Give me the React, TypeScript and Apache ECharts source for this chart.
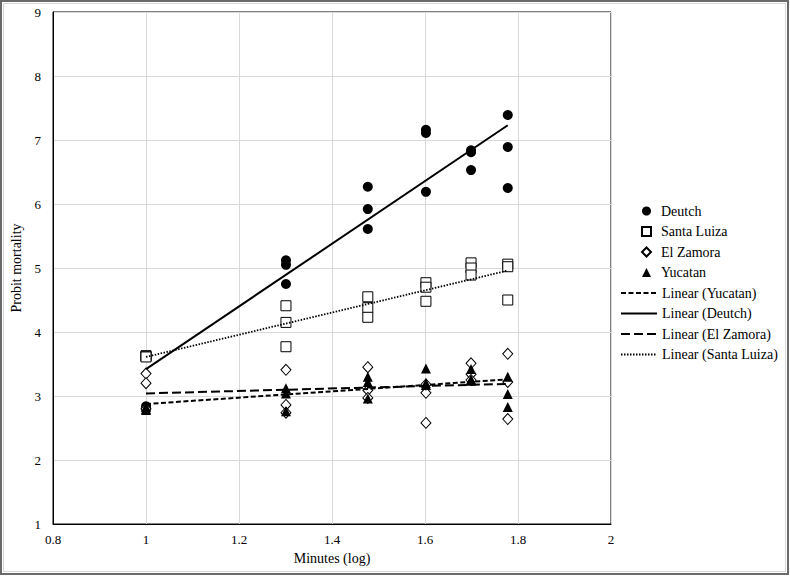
import React, { useEffect, useRef } from "react";
import * as echarts from "echarts";

// x = log10(minutes)
const minutesLog = [1, 1.301, 1.477, 1.602, 1.699, 1.778];

// three replicates per time point
const deutch = [
  [2.84, 2.82, 2.8],
  [5.12, 5.05, 4.75],
  [6.27, 5.92, 5.61],
  [7.16, 7.11, 6.19],
  [6.84, 6.81, 6.53],
  [7.39, 6.89, 6.25],
];
const santaLuiza = [
  [3.63, 3.62, 3.61],
  [4.41, 4.15, 3.77],
  [4.55, 4.38, 4.23],
  [4.77, 4.7, 4.48],
  [5.08, 5.0, 4.89],
  [5.06, 5.02, 4.5],
];
const elZamora = [
  [3.35, 3.2, 2.8],
  [3.41, 2.86, 2.74],
  [3.45, 3.09, 2.97],
  [3.05, 2.58, 3.18],
  [3.51, 3.34, 3.25],
  [3.66, 3.22, 2.64],
];
const yucatan = [
  [2.78, 2.8, 2.83],
  [3.12, 3.04, 2.76],
  [3.3, 3.22, 2.96],
  [3.43, 3.2, 3.17],
  [3.42, 3.26, 3.24],
  [3.3, 3.03, 2.83],
];

// trendline endpoints
const trendX = [1, 1.778];
const trendYucatan = [2.875, 3.26];
const trendDeutch = [3.42, 7.23];
const trendElZamora = [3.04, 3.19];
const trendSantaLuiza = [3.61, 4.96];

const xTicks = { min: 0.8, max: 2, interval: 0.2 };
const yTicks = { min: 1, max: 9, interval: 1 };

const FONT = "Liberation Serif";

function toPoints(groups: number[][]) {
  const pts: number[][] = [];
  groups.forEach((g, i) => g.forEach((v) => pts.push([minutesLog[i], v])));
  return pts;
}
function trend(ys: number[]) {
  return trendX.map((x, i) => [x, ys[i]]);
}

export default function App() {
  const ref = useRef<HTMLDivElement>(null);
  useEffect(() => {
    document.body.style.margin = "0";
    const chart = echarts.init(ref.current!, null, { renderer: "svg" });
    const lineBase = (name: string, ys: number[], type: any, width: number) => ({
      name,
      type: "line",
      data: trend(ys),
      symbol: "none",
      showSymbol: false,
      lineStyle: { color: "#000", width, type },
      itemStyle: { color: "#000" },
      z: 5,
    });
    const txt = { fontFamily: FONT, fontSize: 13, color: "#000" };
    const txt14 = { fontFamily: FONT, fontSize: 14, color: "#000" };
    chart.setOption({
      animation: false,
      backgroundColor: "#fff",
      textStyle: { fontFamily: FONT },
      grid: {
        left: 53,
        top: 12,
        width: 558,
        height: 512,
        show: true,
        borderColor: "#000",
        borderWidth: 1,
      },
      xAxis: {
        type: "value",
        min: xTicks.min,
        max: xTicks.max,
        interval: xTicks.interval,
        name: "Minutes (log)",
        nameLocation: "middle",
        nameGap: 27,
        nameTextStyle: txt14,
        axisLine: { show: true, lineStyle: { color: "#000", width: 1 } },
        axisTick: { show: false },
        axisLabel: {
          ...txt,
          margin: 9,
          formatter: (v: number) => String(Math.round(v * 10) / 10),
        },
        splitLine: { show: true, lineStyle: { color: "#d9d9d9", width: 1 } },
      },
      yAxis: {
        type: "value",
        min: yTicks.min,
        max: yTicks.max,
        interval: yTicks.interval,
        name: "Probit mortality",
        nameLocation: "middle",
        nameGap: 27,
        nameTextStyle: txt14,
        axisLine: { show: true, lineStyle: { color: "#000", width: 1 } },
        axisTick: { show: false },
        axisLabel: { ...txt, margin: 12 },
        splitLine: { show: true, lineStyle: { color: "#d9d9d9", width: 1 } },
      },
      legend: [
        {
          orient: "vertical",
          left: 636,
          top: 199,
          itemWidth: 9,
          itemHeight: 9,
          itemGap: 6.5,
          textStyle: { ...txt14, lineHeight: 14, padding: [0, 0, 0, 5] },
          data: ["Deutch", "Santa Luiza", "El Zamora", "Yucatan"],
        },
        {
          orient: "vertical",
          left: 615,
          top: 281,
          itemWidth: 36,
          itemHeight: 10,
          itemGap: 6.5,
          itemStyle: { opacity: 0 },
          textStyle: { ...txt14, lineHeight: 14 },
          data: [
            "Linear (Yucatan)",
            "Linear (Deutch)",
            "Linear (El Zamora)",
            "Linear (Santa Luiza)",
          ],
        },
      ],
      graphic: [
        {
          type: "rect",
          shape: { x: 1, y: 1, width: 787, height: 573 },
          style: { fill: "none", stroke: "#6a6a6a", lineWidth: 2 },
          silent: true,
        },
        {
          type: "rect",
          shape: { x: 3.5, y: 3.5, width: 782, height: 568 },
          style: { fill: "none", stroke: "#d6d6d6", lineWidth: 1 },
          silent: true,
        },
      ],
      series: [
        {
          name: "Deutch",
          type: "scatter",
          data: toPoints(deutch),
          symbol: "circle",
          symbolSize: 10,
          itemStyle: { color: "#000", opacity: 1 },
        },
        {
          name: "Santa Luiza",
          type: "scatter",
          data: toPoints(santaLuiza),
          symbol: "rect",
          symbolSize: 10,
          itemStyle: { color: "#fff", borderColor: "#000", borderWidth: 1, opacity: 1 },
        },
        {
          name: "El Zamora",
          type: "scatter",
          data: toPoints(elZamora),
          symbol: "diamond",
          symbolSize: [10, 11],
          itemStyle: { color: "#fff", borderColor: "#000", borderWidth: 1, opacity: 1 },
        },
        {
          name: "Yucatan",
          type: "scatter",
          data: toPoints(yucatan),
          symbol: "triangle",
          symbolSize: 10,
          itemStyle: { color: "#000", opacity: 1 },
        },
        lineBase("Linear (Yucatan)", trendYucatan, [5, 2.5], 2),
        lineBase("Linear (Deutch)", trendDeutch, "solid", 2),
        lineBase("Linear (El Zamora)", trendElZamora, [9, 4], 2),
        lineBase("Linear (Santa Luiza)", trendSantaLuiza, [1.5, 1.5], 1.8),
      ],
    });
    return () => chart.dispose();
  }, []);
  return (
    <div
      ref={ref}
      style={{ position: "absolute", left: 0, top: 0, width: 790, height: 576 }}
    />
  );
}
